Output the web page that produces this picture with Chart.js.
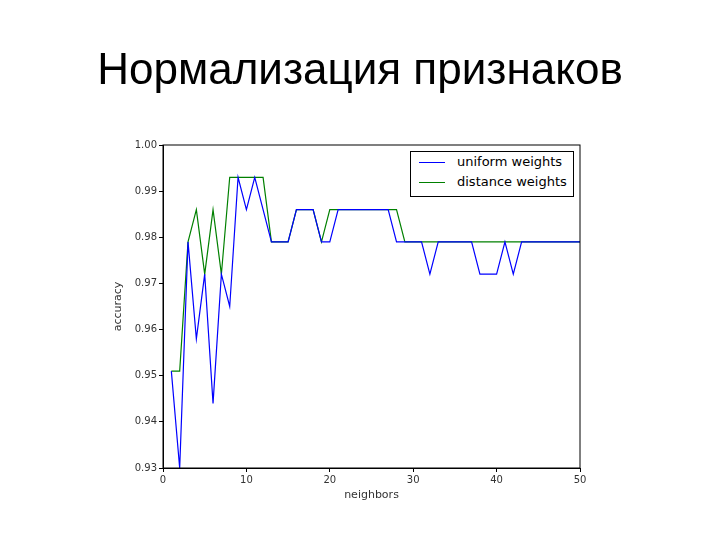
<!DOCTYPE html>
<html>
<head>
<meta charset="utf-8">
<script src="https://cdn.jsdelivr.net/npm/chart.js@4/dist/chart.umd.min.js"></script>
<style>
  body { margin: 0; background: #fff; }
  #wrap { position: relative; width: 720px; height: 540px; }
  h1 { position: absolute; top: 44px; left: 0; width: 720px; margin: 0; text-align: center; font-weight: normal;
       font: 44px "Liberation Sans", Arial, sans-serif; color: #000; }
  #legend { position: absolute; left: 410px; top: 151px; width: 162px; height: 44px; border: 1px solid #000;
            background: #fff; font: 13px "DejaVu Sans", sans-serif; color: #000; }
  #legend div { height: 20px; line-height: 20px; padding-left: 8px; }
  #legend span { display: inline-block; width: 26px; height: 0; vertical-align: middle; margin-right: 12px; }
</style>
</head>
<body>
<div id="wrap">
  <h1>Нормализация признаков</h1>
  <canvas id="c" width="720" height="540"></canvas>
  <div id="legend">
    <div><span style="border-top:1.5px solid #0000ff"></span>uniform weights</div>
    <div><span style="border-top:1.5px solid #008000"></span>distance weights</div>
  </div>
</div>
<script>
// neighbors 1..50
const neighbors = Array.from({ length: 50 }, (_, i) => i + 1);
const uniformWeights = [
  0.951, 0.930, 0.979, 0.958, 0.972, 0.944, 0.972, 0.965, 0.993, 0.986,
  0.993, 0.986, 0.979, 0.979, 0.979, 0.986, 0.986, 0.986, 0.979, 0.979,
  0.986, 0.986, 0.986, 0.986, 0.986, 0.986, 0.986, 0.979, 0.979, 0.979,
  0.979, 0.972, 0.979, 0.979, 0.979, 0.979, 0.979, 0.972, 0.972, 0.972,
  0.979, 0.972, 0.979, 0.979, 0.979, 0.979, 0.979, 0.979, 0.979, 0.979
];
const distanceWeights = [
  0.951, 0.951, 0.979, 0.986, 0.972, 0.986, 0.972, 0.993, 0.993, 0.993,
  0.993, 0.993, 0.979, 0.979, 0.979, 0.986, 0.986, 0.986, 0.979, 0.986,
  0.986, 0.986, 0.986, 0.986, 0.986, 0.986, 0.986, 0.986, 0.979, 0.979,
  0.979, 0.979, 0.979, 0.979, 0.979, 0.979, 0.979, 0.979, 0.979, 0.979,
  0.979, 0.979, 0.979, 0.979, 0.979, 0.979, 0.979, 0.979, 0.979, 0.979
];

const toPoints = vals => vals.map((v, i) => ({ x: neighbors[i], y: v }));

// full box around the plot, like matplotlib
const frame = {
  id: 'frame',
  afterDraw(chart) {
    const { ctx, chartArea: a } = chart;
    ctx.save();
    ctx.strokeStyle = '#000';
    ctx.lineWidth = 1;
    ctx.strokeRect(a.left, a.top, a.right - a.left, a.bottom - a.top);
    ctx.restore();
  }
};

const tickFont = { family: 'DejaVu Sans', size: 10 };

new Chart(document.getElementById('c'), {
  type: 'line',
  data: {
    datasets: [
      { label: 'uniform weights', data: toPoints(uniformWeights), borderColor: '#0000ff', borderWidth: 1.2, pointRadius: 0, tension: 0, order: 0 },
      { label: 'distance weights', data: toPoints(distanceWeights), borderColor: '#008000', borderWidth: 1.2, pointRadius: 0, tension: 0, order: 1 }
    ]
  },
  options: {
    responsive: false,
    animation: false,
    layout: { padding: { left: 112, top: 145, right: 140, bottom: 38 } },
    plugins: { legend: { display: false }, tooltip: { enabled: false } },
    scales: {
      x: {
        type: 'linear', min: 0, max: 50,
        ticks: { stepSize: 10, color: '#333', font: tickFont, padding: 2 },
        grid: { drawOnChartArea: false, tickLength: 4, color: '#000' },
        border: { color: '#000' },
        title: { display: true, text: 'neighbors', color: '#333', font: { family: 'DejaVu Sans', size: 11 }, padding: 0 },
        afterFit: s => { s.height = 34; }
      },
      y: {
        min: 0.93, max: 1.0,
        ticks: { stepSize: 0.01, color: '#333', font: tickFont, padding: 2, callback: v => v.toFixed(2) },
        grid: { drawOnChartArea: false, tickLength: 4, color: '#000' },
        border: { color: '#000' },
        title: { display: true, text: 'accuracy', color: '#333', font: { family: 'DejaVu Sans', size: 11 }, padding: 0 },
        afterFit: s => { s.width = 51; }
      }
    }
  },
  plugins: [frame]
});
</script>
</body>
</html>
